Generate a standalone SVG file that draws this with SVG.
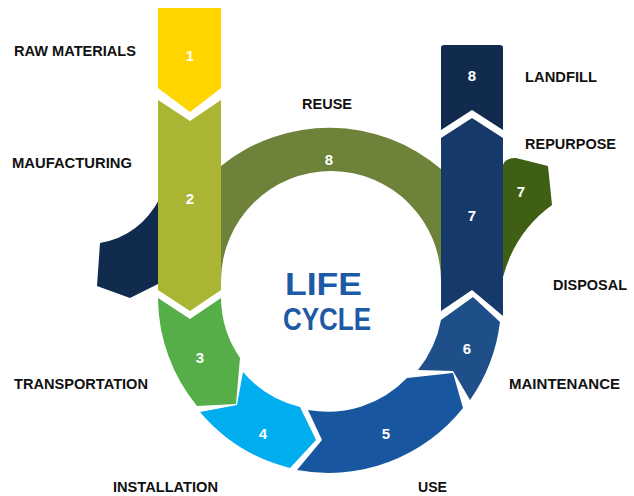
<svg xmlns="http://www.w3.org/2000/svg" width="634" height="496" viewBox="0 0 634 496">
<style>
.lbl{font-family:"Liberation Sans",Arial,sans-serif;font-weight:bold;font-size:15.5px;fill:#111;}
.num{font-family:"Liberation Sans",Arial,sans-serif;font-weight:bold;font-size:15px;fill:#fff;text-anchor:middle;}
.title{font-family:"Liberation Sans",Arial,sans-serif;font-weight:bold;font-size:32px;fill:#1D5AA6;}
</style>
<rect width="634" height="496" fill="#fff"/>
<g id="connectors"/>
<g id="reuse-arc">
<path d="M221,166 A172 172 0 0 1 441,169 L441,282 A110 110 0 0 0 221,280 Z" fill="#6E8239"/>
<text class="num" x="329" y="165">8</text>
</g>
<g id="blob-left">
<path d="M160,198 Q140,236 100,243 L97,286 L130,298 L160,283 Z" fill="#112B4E"/>
</g>
<g id="blob-repurpose">
<path d="M503,165 Q505,158 516,158 L548,166 L552,205 Q515,232 503,277 Z" fill="#3F5F15"/>
<text class="num" x="521" y="197">7</text>
</g>
<g id="raw-materials">
<path d="M158,8 L221,8 L221,88 L190,112 L158,88 Z" fill="#FFD500"/>
<text class="num" x="190" y="61">1</text>
</g>
<g id="manufacturing">
<path d="M158,100 L190,121 L221,100 L221,290 L190,311 L158,290 Z" fill="#A9B533"/>
<text class="num" x="190" y="204">2</text>
</g>
<g id="transportation">
<path d="M158,298 L190,319 L221,298 A108 108 0 0 0 240,358 L236,404 L197,406 A172 172 0 0 1 158,300 Z" fill="#55AE48"/>
<text class="num" x="200" y="363">3</text>
</g>
<g id="installation">
<path d="M243,372 A110 110 0 0 0 300,407 L316,440 L290,468 A172 172 0 0 1 200,412 L237,405 Z" fill="#00AEEF"/>
<text class="num" x="263" y="439">4</text>
</g>
<g id="use">
<path d="M308,410 A110 110 0 0 0 407,378 L453,373 L463,408 A172 172 0 0 1 297,470 L322,440 Z" fill="#1856A0"/>
<text class="num" x="386" y="439">5</text>
</g>
<g id="maintenance">
<path d="M418,370 A112 112 0 0 0 441,320 L473,297 L500,322 A172 172 0 0 1 470,400 L453,371 Z" fill="#1F4F89"/>
<text class="num" x="467" y="354">6</text>
</g>
<g id="disposal">
<path d="M441,138 L472,118 L503,138 L503,316 L472,290 L441,311 Z" fill="#153A6A"/>
<text class="num" x="472" y="221">7</text>
</g>
<g id="landfill">
<path d="M444,45 L500,45 Q503,45 503,48 L503,130 L472,110 L441,130 L441,48 Q441,45 444,45 Z" fill="#112B4F"/>
<text class="num" x="472" y="81">8</text>
</g>
<g id="labels">
<text class="lbl" x="14" y="56" textLength="122" lengthAdjust="spacingAndGlyphs">RAW MATERIALS</text>
<text class="lbl" x="12" y="168" textLength="120" lengthAdjust="spacingAndGlyphs">MAUFACTURING</text>
<text class="lbl" x="14" y="389" textLength="134" lengthAdjust="spacingAndGlyphs">TRANSPORTATION</text>
<text class="lbl" x="113" y="492" textLength="105" lengthAdjust="spacingAndGlyphs">INSTALLATION</text>
<text class="lbl" x="418" y="492" textLength="29" lengthAdjust="spacingAndGlyphs">USE</text>
<text class="lbl" x="509" y="389" textLength="111" lengthAdjust="spacingAndGlyphs">MAINTENANCE</text>
<text class="lbl" x="553" y="290" textLength="74" lengthAdjust="spacingAndGlyphs">DISPOSAL</text>
<text class="lbl" x="525" y="149" textLength="91" lengthAdjust="spacingAndGlyphs">REPURPOSE</text>
<text class="lbl" x="525" y="82" textLength="72" lengthAdjust="spacingAndGlyphs">LANDFILL</text>
<text class="lbl" x="302" y="109" textLength="50" lengthAdjust="spacingAndGlyphs">REUSE</text>
</g>
<g id="center-title">
<text class="title" x="285" y="295" textLength="77" lengthAdjust="spacingAndGlyphs">LIFE</text>
<text class="title" x="283" y="330" textLength="88" lengthAdjust="spacingAndGlyphs">CYCLE</text>
</g>
</svg>
